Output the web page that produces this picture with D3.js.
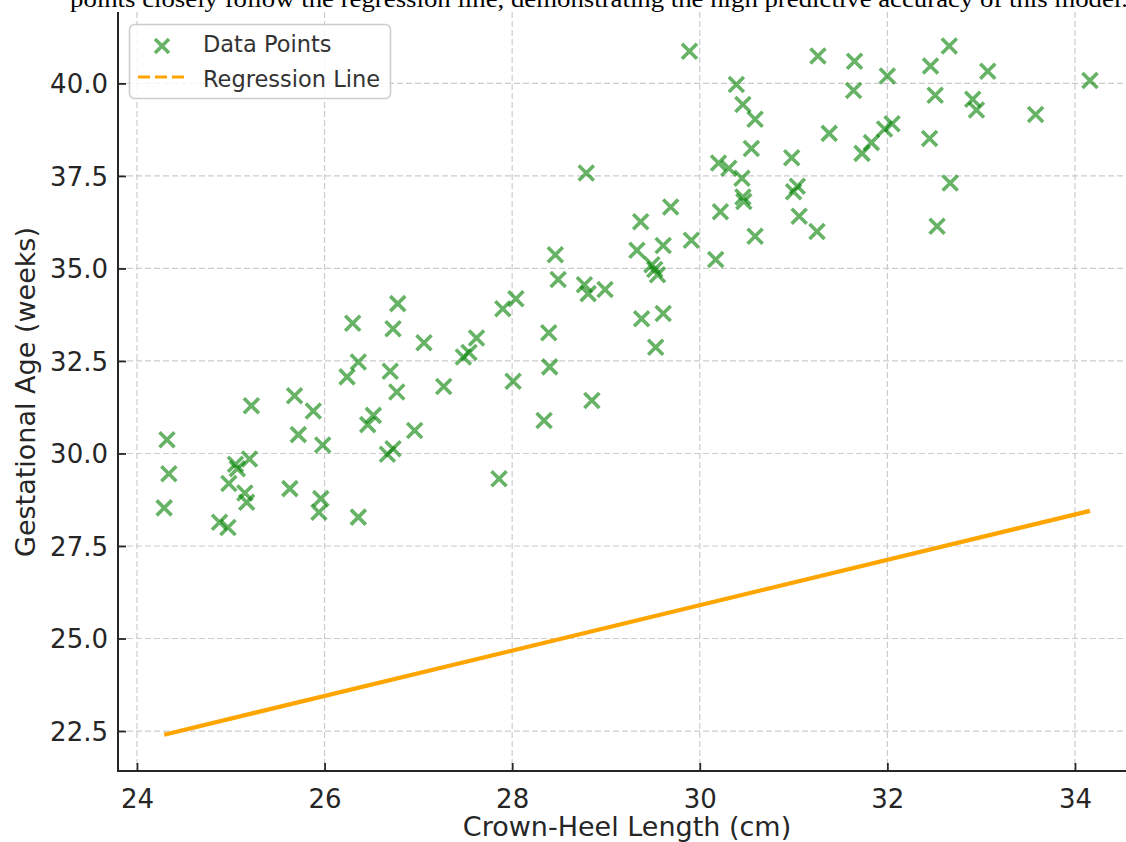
<!DOCTYPE html>
<html>
<head>
<meta charset="utf-8">
<script src="https://cdn.jsdelivr.net/npm/d3@7"></script>
<style>
    html, body { margin: 0; padding: 0; background: #fff; }
    svg { display: block; }
</style>
</head>
<body>
<svg id="chart"></svg>
<script>
// Crown-heel length (cm) of each measured fetus
var crownHeel = [
    24.32, 24.34, 24.29, 24.88, 24.97, 24.98, 25.05, 25.07, 25.20, 25.15,
    25.17, 25.22, 25.63, 25.68, 25.72, 25.88, 25.96, 25.94, 25.98, 26.24,
    26.30, 26.36, 26.36, 26.46, 26.52, 26.67, 26.73, 26.70, 26.73, 26.77,
    26.78, 26.96, 27.06, 27.27, 27.48, 27.54, 27.62, 27.86, 27.90, 28.01,
    28.04, 28.34, 28.39, 28.40, 28.49, 28.46, 28.77, 28.79, 28.81, 28.85,
    28.99, 29.33, 29.37, 29.38, 29.49, 29.52, 29.55, 29.53, 29.61, 29.61,
    29.69, 29.89, 29.91, 30.17, 30.20, 30.22, 30.31, 30.39, 30.45, 30.46,
    30.46, 30.47, 30.55, 30.59, 30.59, 30.98, 31.00, 31.04, 31.06, 31.25,
    31.26, 31.38, 31.64, 31.65, 31.73, 31.83, 31.97, 32.00, 32.05, 32.45,
    32.46, 32.51, 32.53, 32.66, 32.67, 32.91, 32.95, 33.07, 33.58, 34.16
];

// Gestational age (weeks), same order as crownHeel
var gestAge = [
    30.37, 29.45, 28.53, 28.14, 28.00, 29.19, 29.71, 29.59, 29.85, 28.93,
    28.68, 31.29, 29.05, 31.56, 30.51, 31.15, 28.78, 28.41, 30.23, 32.07,
    33.52, 32.47, 28.28, 30.78, 31.03, 29.98, 30.13, 32.22, 33.37, 31.66,
    34.05, 30.62, 32.99, 31.81, 32.61, 32.73, 33.12, 29.32, 33.91, 31.95,
    34.18, 30.89, 33.26, 32.34, 34.70, 35.37, 34.56, 37.58, 34.32, 31.43,
    34.43, 35.49, 36.26, 33.64, 35.10, 34.97, 34.83, 32.87, 35.62, 33.78,
    36.66, 40.87, 35.76, 35.24, 37.85, 36.53, 37.71, 39.97, 37.44, 39.43,
    36.93, 36.81, 38.24, 39.03, 35.87, 37.99, 37.07, 37.22, 36.41, 36.00,
    40.74, 38.65, 39.81, 40.60, 38.11, 38.40, 38.77, 40.20, 38.91, 38.51,
    40.47, 39.68, 36.14, 41.01, 37.31, 39.57, 39.28, 40.33, 39.16, 40.08
];

// Ends of the fitted regression line
var regressionX = [24.29, 34.16];
var regressionY = [22.40, 28.45];

var xTicks = [24, 26, 28, 30, 32, 34];
var yTicks = [22.5, 25.0, 27.5, 30.0, 32.5, 35.0, 37.5, 40.0];

var titleText = "points closely follow the regression line, demonstrating the high predictive accuracy of this model.";

function drawChart() {
    var width = 1126,
        height = 842;

    var left = 118,
        top = 12,
        bottom = 771;

    var ink = "#262626",
        gridColour = "#cccccc",
        pointColour = "#008000",
        lineColour = "#ffa500";

    var svg = d3.select("#chart")
        .attr("width", width)
        .attr("height", height);

    // Scales, with the same small margins as the original axes
    var x = d3.scaleLinear()
        .domain([23.8, 34.64])
        .range([left + 0.2, 1135]);

    var y = d3.scaleLinear()
        .domain([21.42, 41.93])
        .range([bottom, top]);

    // Dashed grid
    svg.append("g")
        .selectAll("line")
        .data(xTicks)
        .enter().append("line")
        .attr("x1", function (d) { return x(d); })
        .attr("x2", function (d) { return x(d); })
        .attr("y1", top)
        .attr("y2", bottom)
        .attr("stroke", gridColour)
        .attr("stroke-width", 1.2)
        .attr("stroke-dasharray", "6,3");

    svg.append("g")
        .selectAll("line")
        .data(yTicks)
        .enter().append("line")
        .attr("x1", left)
        .attr("x2", width)
        .attr("y1", function (d) { return y(d); })
        .attr("y2", function (d) { return y(d); })
        .attr("stroke", gridColour)
        .attr("stroke-width", 1.2)
        .attr("stroke-dasharray", "6,3");

    // Regression line
    var regression = regressionX.map(function (d, i) {
        return [d, regressionY[i]];
    });
    svg.append("path")
        .datum(regression)
        .attr("fill", "none")
        .attr("stroke", lineColour)
        .attr("stroke-width", 4.2)
        .attr("d", d3.line()
            .x(function (d) { return x(d[0]); })
            .y(function (d) { return y(d[1]); }));

    // Scatter points drawn as 'x' markers
    var s = 7.5;
    svg.append("g")
        .selectAll("path")
        .data(crownHeel)
        .enter().append("path")
        .attr("d", function (d, i) {
            var cx = x(d), cy = y(gestAge[i]);
            return "M" + (cx - s) + "," + (cy - s) + "L" + (cx + s) + "," + (cy + s) +
                "M" + (cx - s) + "," + (cy + s) + "L" + (cx + s) + "," + (cy - s);
        })
        .attr("fill", "none")
        .attr("stroke", pointColour)
        .attr("stroke-width", 3.6)
        .attr("opacity", 0.6);

    // Axes, ticks pointing inwards
    var xAxis = svg.append("g")
        .attr("transform", "translate(0," + bottom + ")")
        .call(d3.axisBottom(x).tickValues(xTicks).tickSize(-8).tickPadding(12)
            .tickFormat(d3.format("d")));
    xAxis.select(".domain").remove();

    var yAxis = svg.append("g")
        .attr("transform", "translate(" + left + ",0)")
        .call(d3.axisLeft(y).tickValues(yTicks).tickSize(-8).tickPadding(12)
            .tickFormat(d3.format(".1f")));
    yAxis.select(".domain").remove();

    svg.selectAll(".tick line")
        .attr("stroke", ink)
        .attr("stroke-width", 1.8);
    svg.selectAll(".tick text")
        .attr("fill", ink)
        .style("font-family", "DejaVu Sans")
        .style("font-size", "26px");
    xAxis.selectAll(".tick text").attr("dy", "0.95em");
    yAxis.selectAll(".tick text").attr("x", -10).attr("dy", "0.36em");

    // Spines (left and bottom only)
    svg.append("line")
        .attr("x1", left).attr("x2", left)
        .attr("y1", top).attr("y2", bottom + 1)
        .attr("stroke", ink).attr("stroke-width", 2);
    svg.append("line")
        .attr("x1", left - 1).attr("x2", width)
        .attr("y1", bottom).attr("y2", bottom)
        .attr("stroke", ink).attr("stroke-width", 2);

    // Axis labels
    svg.append("text")
        .attr("x", 627)
        .attr("y", 836)
        .style("text-anchor", "middle")
        .style("font-family", "DejaVu Sans")
        .style("font-size", "27px")
        .attr("fill", ink)
        .text("Crown-Heel Length (cm)");

    svg.append("text")
        .attr("transform", "translate(35,392) rotate(-90)")
        .style("text-anchor", "middle")
        .style("font-family", "DejaVu Sans")
        .style("font-size", "27px")
        .attr("fill", ink)
        .text("Gestational Age (weeks)");

    // Title, cut off at the top of the picture as in the original
    svg.append("text")
        .attr("x", 70)
        .attr("y", 7)
        .style("font-family", "Liberation Serif")
        .style("font-size", "24px")
        .attr("fill", "#000")
        .attr("textLength", 1058)
        .attr("lengthAdjust", "spacingAndGlyphs")
        .text(titleText);

    // Legend
    var legend = svg.append("g");
    legend.append("rect")
        .attr("x", 129.5)
        .attr("y", 24.5)
        .attr("width", 261)
        .attr("height", 74)
        .attr("rx", 5)
        .attr("fill", "#fff")
        .attr("fill-opacity", 0.8)
        .attr("stroke", "#cccccc")
        .attr("stroke-width", 1.5);

    legend.append("path")
        .attr("d", "M155,39L169,53M155,53L169,39")
        .attr("fill", "none")
        .attr("stroke", pointColour)
        .attr("stroke-width", 3.6)
        .attr("opacity", 0.6);

    legend.append("line")
        .attr("x1", 138).attr("x2", 184)
        .attr("y1", 77).attr("y2", 77)
        .attr("stroke", lineColour)
        .attr("stroke-width", 3.2)
        .attr("stroke-dasharray", "12,5");

    legend.selectAll("text.legend-label")
        .data(["Data Points", "Regression Line"])
        .enter().append("text")
        .attr("class", "legend-label")
        .attr("x", 203)
        .attr("y", function (d, i) { return 52 + i * 35; })
        .style("font-family", "DejaVu Sans")
        .style("font-size", "22.5px")
        .attr("fill", "#333")
        .text(function (d) { return d; });
}

drawChart();
</script>
</body>
</html>
